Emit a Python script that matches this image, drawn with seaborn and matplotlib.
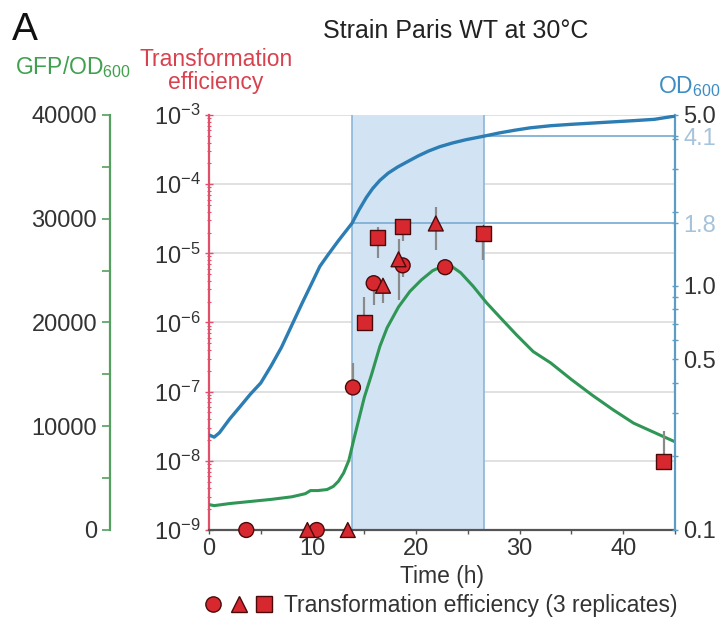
import numpy as np
import pandas as pd
import seaborn as sns
import matplotlib.pyplot as plt
from matplotlib.lines import Line2D
from matplotlib.legend_handler import HandlerTuple
from matplotlib.ticker import FixedLocator, FuncFormatter, LogLocator, MultipleLocator, NullFormatter

sns.set_style("white")
plt.rcParams['font.family'] = ['Liberation Sans', 'DejaVu Sans']
plt.rcParams['mathtext.fontset'] = 'custom'
plt.rcParams['mathtext.rm'] = 'Liberation Sans'
plt.rcParams['mathtext.it'] = 'Liberation Sans:italic'
plt.rcParams['mathtext.default'] = 'regular'

# OD600 growth curve
time_od = [0, 0.5, 1, 2, 3, 4, 5, 6, 7, 8, 9, 10, 10.7, 11.5, 12.5, 13.8, 14.5, 15.2,
           15.8, 16.5, 17.3, 18.2, 19.1, 20.2, 21.2, 22.3, 23.5, 24.8, 26.6, 28, 29.5,
           31, 33, 35, 38, 41, 43, 45]
od = [0.245, 0.24, 0.25, 0.285, 0.32, 0.36, 0.40, 0.47, 0.56, 0.69, 0.85, 1.04, 1.2,
      1.34, 1.53, 1.8, 2.05, 2.3, 2.5, 2.7, 2.89, 3.06, 3.21, 3.4, 3.56, 3.71,
      3.84, 3.96, 4.1, 4.22, 4.33, 4.43, 4.52, 4.58, 4.66, 4.74, 4.8, 4.95]

# GFP/OD600 curve
time_gfp = [0, 0.5, 2, 4, 6, 8, 9.3, 9.8, 10.5, 11.4, 12.0, 12.5, 13.0, 13.5, 14.0,
            14.5, 15.0, 15.7, 16.5, 17.2, 18.3, 19.4, 20.5, 21.6, 22.5, 23.3, 24.3,
            25.5, 26.8, 28.1, 29.7, 31.3, 33, 35, 37, 39, 41, 43, 45]
gfp = [2450, 2350, 2550, 2750, 2950, 3200, 3500, 3800, 3800, 3900, 4200, 4700, 5500,
       6700, 8800, 10800, 12800, 15000, 17700, 19500, 21500, 23000, 24100, 25000,
       25400, 25500, 24800, 23500, 21900, 20500, 18800, 17200, 16100, 14500, 13000,
       11600, 10300, 9400, 8500]

# transformation efficiency, 3 replicates (value, error bar low / high end)
rep = ['1', '1', '1', '1', '1', '1',
       '2', '2', '2', '2', '2', '2',
       '3', '3', '3', '3', '3']
te_time = [3.6, 10.4, 13.9, 15.9, 18.7, 22.8,
           9.5, 13.4, 16.8, 18.3, 21.9, 26.5,
           15.0, 16.3, 18.7, 26.5, 43.9]
te = [1e-9, 1e-9, 1.15e-7, 3.7e-6, 6.7e-6, 6.3e-6,
      1e-9, 1e-9, 3.4e-6, 8.2e-6, 2.7e-5, 1.95e-5,
      1e-6, 1.7e-5, 2.45e-5, 1.95e-5, 9.8e-9]
te_lo = [1e-9, 1e-9, 1.15e-7, 1.8e-6, 4.5e-6, 6.3e-6,
         1e-9, 1e-9, 1.9e-6, 2.1e-6, 1.1e-5, 7.9e-6,
         1e-6, 8.7e-6, 1.5e-5, 7.9e-6, 9.8e-9]
te_hi = [1e-9, 1e-9, 2.6e-7, 3.7e-6, 6.7e-6, 6.3e-6,
         1e-9, 1e-9, 3.4e-6, 1.6e-5, 4.6e-5, 1.95e-5,
         2.3e-6, 2.4e-5, 2.45e-5, 1.95e-5, 2.7e-8]

# competence window (time) and the OD600 at its edges
window_t = [13.8, 26.6]
window_od = [1.8, 4.1]

od_ticks = [0.1, 0.5, 1.0, 1.8, 4.1, 5.0]

RED = "#d7282f"
GREEN = "#2f9656"
BLUE = "#2b7db3"
TXT = "#333333"

df = pd.DataFrame({"time": te_time, "te": te, "replicate": rep})
te_arr = np.array(te)

fig = plt.figure(figsize=(7.27, 6.25), dpi=100)
ax = fig.add_axes([0.2875, 0.152, 0.641, 0.664])
ax_g = ax.twinx()
ax_od = ax.twinx()
ax_p = ax.twinx()

# base axes: transformation efficiency scale, grid, shading
ax.set_yscale('log')
ax.set_ylim(1e-9, 1e-3)
ax.set_xlim(0, 45)
for d in range(-8, -2):
    ax.axhline(10.0 ** d, color="#dcdcdc", lw=1.2, zorder=0)
ax.axvspan(window_t[0], window_t[1], color="#d2e4f4", zorder=1, lw=0)
for t in window_t:
    ax.axvline(t, color="#8cb6d8", lw=1.2, zorder=1)

ax.yaxis.set_major_locator(FixedLocator([10.0 ** d for d in range(-9, -2)]))
ax.yaxis.set_major_formatter(FuncFormatter(lambda v, _: f"10$^{{{int(round(np.log10(v)))}}}$"))
ax.yaxis.set_minor_locator(LogLocator(base=10, subs=np.arange(2, 10), numticks=20))
ax.yaxis.set_minor_formatter(NullFormatter())
ax.tick_params(axis='y', which='major', direction='inout', length=6, width=1, color="#e0506a",
               labelsize=17, labelcolor=TXT, pad=3)
ax.tick_params(axis='y', which='minor', direction='inout', length=3, width=0.8, color="#e0506a")
ax.xaxis.set_major_locator(MultipleLocator(10))
ax.xaxis.set_minor_locator(MultipleLocator(5))
ax.tick_params(axis='x', which='both', direction='out', length=3, width=1, color="#555555",
               labelsize=17, labelcolor=TXT, pad=3, bottom=True)
ax.set_xlabel("Time (h)", fontsize=16.5, color=TXT, labelpad=3)
for s in ['top', 'right']:
    ax.spines[s].set_visible(False)
ax.spines['left'].set_color("#e0506a")
ax.spines['left'].set_linewidth(1.6)
ax.spines['bottom'].set_color("#555555")
ax.spines['bottom'].set_linewidth(1.6)

# GFP axis, offset to the left
sns.lineplot(x=time_gfp, y=gfp, ax=ax_g, color=GREEN, lw=2.2, zorder=3)
ax_g.set_ylim(0, 40000)
ax_g.yaxis.set_label_position('left')
ax_g.yaxis.tick_left()
ax_g.spines['left'].set_position(('axes', -0.2134))
ax_g.spines['left'].set_visible(True)
ax_g.spines['left'].set_color("#55a060")
ax_g.spines['left'].set_linewidth(1.6)
for s in ['top', 'right', 'bottom']:
    ax_g.spines[s].set_visible(False)
ax_g.yaxis.set_major_locator(MultipleLocator(10000))
ax_g.yaxis.set_minor_locator(MultipleLocator(5000))
ax_g.tick_params(axis='y', which='both', direction='out', length=6, width=1.2, color="#55a060",
                 labelsize=17, labelcolor=TXT, pad=3)

# OD600 axis on the right
sns.lineplot(x=time_od, y=od, ax=ax_od, color=BLUE, lw=2.4, zorder=3)
ax_od.set_yscale('log')
ax_od.set_ylim(0.1, 5.0)
ax_od.hlines(window_od, window_t, 45, color="#7fb0d4", lw=1.3, zorder=2)
ax_od.yaxis.set_major_locator(FixedLocator(od_ticks))
ax_od.yaxis.set_major_formatter(FuncFormatter(lambda v, _: f"{v:.1f}"))
ax_od.yaxis.set_minor_locator(FixedLocator([0.2, 0.3, 0.4, 0.6, 0.7, 0.8, 0.9, 2, 3, 4]))
ax_od.yaxis.set_minor_formatter(NullFormatter())
ax_od.tick_params(axis='y', which='both', direction='inout', length=4, width=1, color="#5d9cc4",
                  labelsize=17, labelcolor=TXT, pad=4)
for lab, v in zip(ax_od.get_yticklabels(), od_ticks):
    if v in window_od:
        lab.set_color("#a6c3da")
for s in ['top', 'left', 'bottom']:
    ax_od.spines[s].set_visible(False)
ax_od.spines['right'].set_color("#5d9cc4")
ax_od.spines['right'].set_linewidth(1.6)
ax_od.set_ylabel("")

# transformation efficiency points on top
ax_p.set_yscale('log')
ax_p.set_ylim(1e-9, 1e-3)
ax_p.errorbar(te_time, te, yerr=[te_arr - np.array(te_lo), np.array(te_hi) - te_arr],
              fmt='none', ecolor="#8a8a8a", elinewidth=1.6, capsize=0, zorder=2)
sns.scatterplot(data=df, x="time", y="te", style="replicate",
                markers={'1': 'o', '2': '^', '3': 's'}, color=RED, s=115,
                edgecolor="#4a0a0a", linewidth=1, legend=False, ax=ax_p, zorder=3, clip_on=False)
ax_p.set_axis_off()

# titles
fig.text(0.016, 0.952, "A", fontsize=28, color="#111111", va='center', ha='left')
fig.text(0.627, 0.951, "Strain Paris WT at 30°C", fontsize=18, color="#222222", ha='center', va='center')
fig.text(0.100, 0.893, "GFP/OD$_{600}$", fontsize=16.5, color="#3fa04e", ha='center', va='center')
fig.text(0.297, 0.887, "Transformation\nefficiency", fontsize=16.5, color="#d8424f",
         ha='center', va='center', linespacing=1.0)
fig.text(0.948, 0.862, "OD$_{600}$", fontsize=16.5, color="#3d8dc4", ha='center', va='center')

handles = tuple(Line2D([], [], ls='none', marker=m, markersize=11, markerfacecolor=RED,
                       markeredgecolor="#4a0a0a", markeredgewidth=1) for m in ['o', '^', 's'])
fig.legend([handles], ["Transformation efficiency (3 replicates)"],
           handler_map={tuple: HandlerTuple(ndivide=None, pad=0.2)},
           loc='center', bbox_to_anchor=(0.605, 0.031), frameon=False, fontsize=16.5,
           handlelength=3.2, handletextpad=0.4, labelcolor=TXT)

fig.savefig("out.png", dpi=100)
